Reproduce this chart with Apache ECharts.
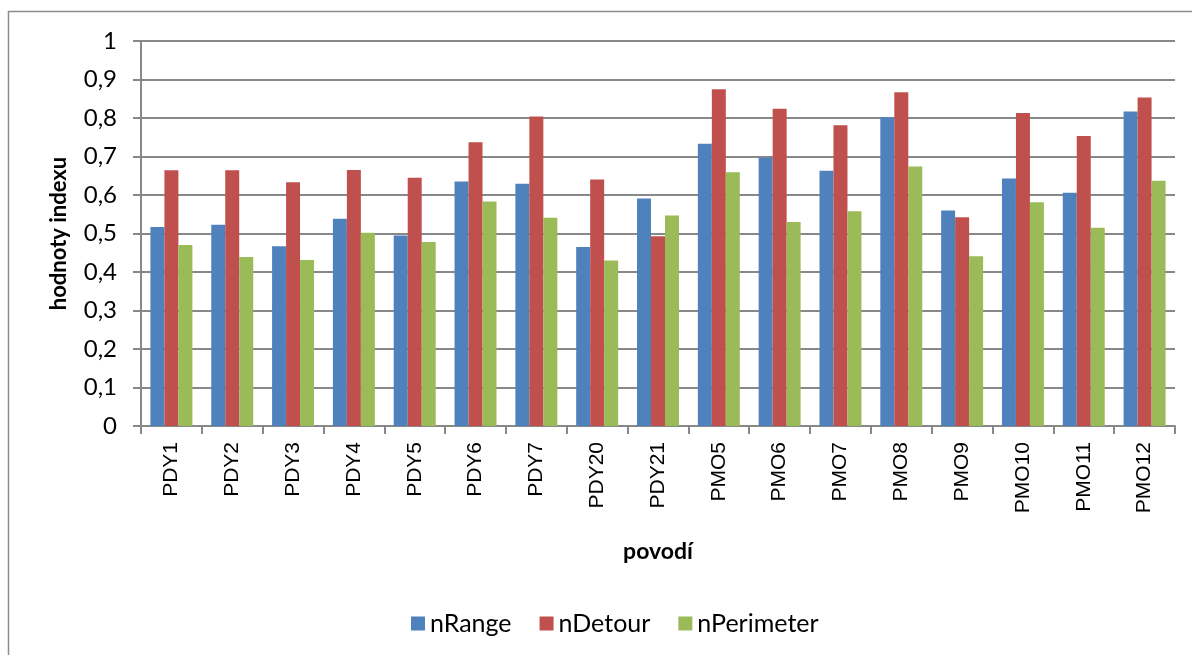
<!DOCTYPE html>
<html>
<head>
<meta charset="utf-8">
<script src="https://cdn.jsdelivr.net/npm/echarts@6/dist/echarts.min.js"></script>
<style>
  html, body { margin: 0; padding: 0; background: #fff; }
  #chart { width: 1192px; height: 655px; }
</style>
</head>
<body>
<div id="chart"></div>
<script>
// kategorie (povodí)
var categories = ['PDY1', 'PDY2', 'PDY3', 'PDY4', 'PDY5', 'PDY6', 'PDY7', 'PDY20', 'PDY21',
  'PMO5', 'PMO6', 'PMO7', 'PMO8', 'PMO9', 'PMO10', 'PMO11', 'PMO12'];

// hodnoty indexu
var nRange = [0.517, 0.523, 0.467, 0.538, 0.495, 0.635, 0.629, 0.465, 0.591,
  0.733, 0.697, 0.663, 0.802, 0.560, 0.643, 0.606, 0.817];
var nDetour = [0.664, 0.664, 0.633, 0.665, 0.645, 0.737, 0.804, 0.640, 0.493,
  0.875, 0.824, 0.781, 0.867, 0.542, 0.813, 0.753, 0.853];
var nPerimeter = [0.470, 0.439, 0.431, 0.502, 0.478, 0.583, 0.541, 0.430, 0.547,
  0.659, 0.530, 0.558, 0.674, 0.441, 0.581, 0.515, 0.637];

var chart = echarts.init(document.getElementById('chart'));

var font = 'Lato';
var gridColor = '#888888';

function bar(name, data, color) {
  return {
    name: name,
    type: 'bar',
    data: data,
    barGap: '0%',
    barCategoryGap: '31%',
    itemStyle: { color: color },
    emphasis: { disabled: true }
  };
}

var option = {
  animation: false,
  graphic: [{
    type: 'rect',
    shape: { x: 8.5, y: 11.5, width: 1300, height: 800 },
    style: { fill: 'none', stroke: '#8c8c8c', lineWidth: 1.5 },
    silent: true
  }],
  grid: { left: 141, right: 17, top: 41, bottom: 229 },
  legend: {
    top: 606,
    left: 406,
    itemWidth: 14,
    itemHeight: 14,
    itemGap: 28,
    icon: 'rect',
    textStyle: { fontFamily: font, fontSize: 25, color: '#000' },
    data: ['nRange', 'nDetour', 'nPerimeter']
  },
  xAxis: {
    type: 'category',
    data: categories,
    name: 'povodí',
    nameLocation: 'middle',
    nameGap: 114,
    nameTextStyle: { fontFamily: font, fontSize: 23, fontWeight: 'bold', color: '#000' },
    axisLine: { lineStyle: { color: gridColor, width: 2 } },
    axisTick: { show: true, length: 8, lineStyle: { color: gridColor, width: 2 } },
    axisLabel: {
      rotate: 90,
      margin: 16,
      fontFamily: 'Liberation Sans',
      fontSize: 21,
      color: '#000'
    }
  },
  yAxis: {
    type: 'value',
    min: 0,
    max: 1,
    interval: 0.1,
    name: 'hodnoty indexu',
    nameLocation: 'middle',
    nameGap: 71,
    nameTextStyle: { fontFamily: font, fontSize: 22, fontWeight: 'bold', color: '#000' },
    axisLine: { show: true, lineStyle: { color: gridColor, width: 2 } },
    axisTick: { show: true, length: 8, lineStyle: { color: gridColor, width: 2 } },
    splitLine: { lineStyle: { color: gridColor, width: 2 } },
    axisLabel: {
      margin: 24,
      fontFamily: font,
      fontSize: 24,
      color: '#000',
      formatter: function (v) { return String(+v.toFixed(1)).replace('.', ','); }
    }
  },
  series: [
    bar('nRange', nRange, '#4F81BD'),
    bar('nDetour', nDetour, '#C0504D'),
    bar('nPerimeter', nPerimeter, '#9BBB59')
  ]
};

chart.setOption(option);
</script>
</body>
</html>
